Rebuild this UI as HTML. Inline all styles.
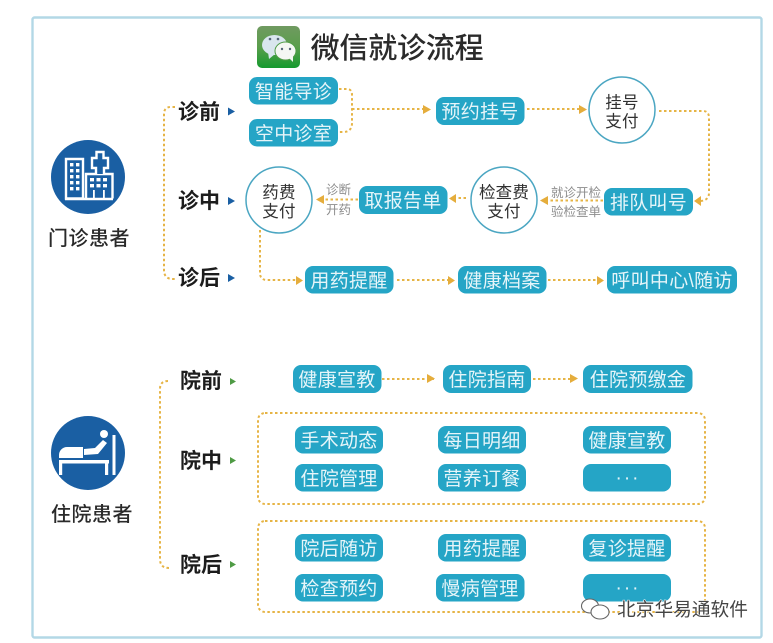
<!DOCTYPE html>
<html lang="zh">
<head>
<meta charset="utf-8">
<style>
html,body{margin:0;padding:0;background:#fff;width:773px;height:643px;overflow:hidden}
svg{display:block;filter:blur(.35px)}
text{font-family:"Liberation Sans","Noto Sans CJK SC",sans-serif}
.p{fill:#25a5c6}
.pt{fill:#e6f5f9;font-size:19px;letter-spacing:.3px;text-anchor:middle}
.c{fill:#fff;stroke:#4ba6c2;stroke-width:1.5}
.ct{fill:#2f2f2f;font-size:16.5px;letter-spacing:.2px;text-anchor:middle}
.h{fill:#1c1c1c;font-size:21px;font-weight:700;text-anchor:middle}
.who{fill:#2a2a2a;font-size:20px;font-weight:500;letter-spacing:.5px;text-anchor:middle}
.g{fill:#8d8d8d;font-size:12.500px;text-anchor:middle}
.d{fill:none;stroke:#e6b445;stroke-width:2;stroke-dasharray:2.500 2.500}
.o{fill:#e5ad3c}
.b{fill:#1a5fa3}
.gr{fill:#4f9b45}
.dots{fill:#e6f5f9;font-size:19px;letter-spacing:2px;text-anchor:middle}
</style>
</head>
<body>
<svg width="773" height="643" viewBox="0 0 773 643" xmlns="http://www.w3.org/2000/svg">
<rect width="773" height="643" fill="#fff"/>
<rect x="32.500" y="17.500" width="729" height="620" rx="2" fill="#fff" stroke="#b3d8e6" stroke-width="2.400"/>

<!-- WeChat icon -->
<defs><linearGradient id="wg" x1="0" y1="0" x2="0" y2="1"><stop offset="0" stop-color="#6f9a60"/><stop offset=".5" stop-color="#5a9e4c"/><stop offset="1" stop-color="#159a2e"/></linearGradient></defs>
<rect x="257" y="26" width="43" height="42" rx="5" fill="url(#wg)"/>
<ellipse cx="274.500" cy="45" rx="12.500" ry="10" fill="#d9e6ee"/>
<path d="M268 52l1 7 6-5z" fill="#d9e6ee"/>
<ellipse cx="285.500" cy="51" rx="10.500" ry="9" fill="#f4f7f3" stroke="#4f9c46" stroke-width="1"/>
<path d="M289 58l4 4 0-6z" fill="#f4f7f3"/>
<circle cx="270" cy="39" r="1.300" fill="#567"/><circle cx="278" cy="39" r="1.300" fill="#567"/>
<circle cx="282" cy="49" r="1.200" fill="#567"/><circle cx="290" cy="49" r="1.200" fill="#567"/>
<text x="397" y="58" text-anchor="middle" font-size="29" font-weight="500" letter-spacing="-.2" fill="#2b2b2b">微信就诊流程</text>

<!-- Outpatient icon -->
<circle cx="88" cy="177" r="37" class="b"/>
<g fill="none" stroke="#fff" stroke-width="2.400">
<path d="M84 198.500H66V159H83V198"/>
<path d="M86 198.500V174H112.500V198.500"/>
<path d="M96 174V168H92V158H96.500V152H103.500V158H108V168H104V174" fill="#1a5fa3"/>
</g>
<path d="M65 199h48" stroke="#fff" stroke-width="2.600"/>
<g fill="#fff">
<rect x="70" y="163" width="3.400" height="3.400"/><rect x="76" y="163" width="3.400" height="3.400"/>
<rect x="70" y="169" width="3.400" height="3.400"/><rect x="76" y="169" width="3.400" height="3.400"/>
<rect x="70" y="175" width="3.400" height="3.400"/><rect x="76" y="175" width="3.400" height="3.400"/>
<rect x="70" y="181" width="3.400" height="3.400"/><rect x="76" y="181" width="3.400" height="3.400"/>
<rect x="70" y="187" width="3.400" height="3.400"/><rect x="76" y="187" width="3.400" height="3.400"/>
<rect x="90" y="178" width="4" height="3.400"/><rect x="96.500" y="178" width="4" height="3.400"/><rect x="103" y="178" width="4" height="3.400"/>
<rect x="90" y="184" width="4" height="3.400"/><rect x="96.500" y="184" width="4" height="3.400"/><rect x="103" y="184" width="4" height="3.400"/>
<rect x="93" y="190" width="1.800" height="8"/><rect x="103" y="190" width="1.800" height="8"/>
</g>
<text x="89" y="245" class="who">门诊患者</text>

<!-- Inpatient icon -->
<circle cx="88" cy="453" r="37" class="b"/>
<circle cx="104" cy="434" r="4" fill="#fff"/>
<g fill="#fff">
<rect x="112.500" y="435" width="3" height="40"/>
<path d="M59 458v-3a8 8 0 0 1 8-8h16v11z"/>
<path d="M84 449l11-1 8-8 4 3-9 11-14 1z"/>
<rect x="59" y="460" width="50" height="3.500"/>
<rect x="59" y="463" width="3.200" height="12"/>
<rect x="105" y="463" width="3.200" height="12"/>
</g>
<text x="92" y="521" class="who">住院患者</text>

<!-- Group brackets -->
<path class="d" d="M175 107h-4q-7 0-7 7v156q0 9 9 9h3"/>
<path class="d" d="M168 381q-8 0-8 8v170q0 9 9 9"/>

<!-- Stage labels -->
<text x="199" y="119" class="h">诊前</text>
<text x="199" y="208" class="h">诊中</text>
<text x="199" y="285" class="h">诊后</text>
<text x="201" y="388" class="h">院前</text>
<text x="201" y="468" class="h">院中</text>
<text x="201" y="572" class="h">院后</text>
<path class="b" d="M228 107.500v8l7-4z"/>
<path class="b" d="M228 197v8l7-4z"/>
<path class="b" d="M228 274v8l7-4z"/>
<path class="gr" d="M230 378v7l6-3.500z"/>
<path class="gr" d="M230 457v7l6-3.500z"/>
<path class="gr" d="M230 561v7l6-3.500z"/>

<!-- Outpatient connectors -->
<path class="d" d="M339 89h8q5 0 5 6v28q0 9-9 9h-4"/>
<path class="d" d="M352 109h73"/>
<path class="o" d="M423 105l8 4.500-8 4.500z"/>
<path class="d" d="M527 109h55"/>
<path class="o" d="M579 105l8 4.500-8 4.500z"/>
<path class="d" d="M659 111h44q6 0 6 7v75q0 7-8 8"/>
<path class="o" d="M701 196l-7 5 7 5z"/>
<path class="d" d="M603 200.500h-56"/>
<path class="o" d="M548 196l-8 4.500 8 4.500z"/>
<path class="d" d="M466 198h-10"/>
<path class="o" d="M456 194l-7 4.500 7 4.500z"/>
<path class="d" d="M358 199.500h-34"/>
<path class="o" d="M324 195l-8 4.500 8 4.500z"/>
<path class="d" d="M260 230v43q0 7 7 7h30"/>
<path class="o" d="M296 276l7 4.500-7 4.500z"/>
<path class="d" d="M397 280h52"/>
<path class="o" d="M448 276l7 4.500-7 4.500z"/>
<path class="d" d="M548 280h50"/>
<path class="o" d="M597 276l7 4.500-7 4.500z"/>

<!-- Inpatient connectors -->
<path class="d" d="M382 379h52"/>
<path class="o" d="M427 374l8 4.500-8 4.500z"/>
<path class="d" d="M533 379h45"/>
<path class="o" d="M570 374l8 4.500-8 4.500z"/>
<rect class="d" x="258" y="413" width="447" height="91" rx="7"/>
<rect class="d" x="258" y="521" width="447" height="91" rx="7"/>

<!-- Pills -->
<rect class="p" x="249" y="77" width="89" height="27.500" rx="8"/><text class="pt" x="293.500" y="98">智能导诊</text>
<rect class="p" x="249" y="119" width="89" height="27.500" rx="8"/><text class="pt" x="293.500" y="140">空中诊室</text>
<rect class="p" x="436" y="97" width="88.500" height="28" rx="8"/><text class="pt" x="480" y="118">预约挂号</text>
<rect class="p" x="604" y="188" width="89" height="27.500" rx="8"/><text class="pt" x="648.500" y="209">排队叫号</text>
<rect class="p" x="359" y="186" width="88.500" height="28" rx="8"/><text class="pt" x="403" y="207">取报告单</text>
<rect class="p" x="305" y="266" width="88.500" height="27.500" rx="8"/><text class="pt" x="349" y="287">用药提醒</text>
<rect class="p" x="458" y="266" width="88.500" height="27.500" rx="8"/><text class="pt" x="502" y="287">健康档案</text>
<rect class="p" x="607" y="266" width="130" height="27.500" rx="8"/><text class="pt" x="672" y="287">呼叫中心\随访</text>

<rect class="p" x="293" y="365" width="88.500" height="28" rx="8"/><text class="pt" x="337" y="386">健康宣教</text>
<rect class="p" x="443" y="365" width="88" height="28" rx="8"/><text class="pt" x="487" y="386">住院指南</text>
<rect class="p" x="583" y="365" width="109.500" height="28" rx="8"/><text class="pt" x="638" y="386">住院预缴金</text>

<rect class="p" x="295" y="426" width="88" height="27.500" rx="8"/><text class="pt" x="339" y="447">手术动态</text>
<rect class="p" x="438" y="426" width="88" height="27.500" rx="8"/><text class="pt" x="482" y="447">每日明细</text>
<rect class="p" x="583" y="426" width="88" height="27.500" rx="8"/><text class="pt" x="627" y="447">健康宣教</text>
<rect class="p" x="295" y="464" width="88" height="27.500" rx="8"/><text class="pt" x="339" y="485">住院管理</text>
<rect class="p" x="438" y="464" width="88" height="27.500" rx="8"/><text class="pt" x="482" y="485">营养订餐</text>
<rect class="p" x="583" y="464" width="88" height="27.500" rx="8"/><text class="dots" x="628" y="484">···</text>

<rect class="p" x="295" y="534" width="88" height="27.500" rx="8"/><text class="pt" x="339" y="555">院后随访</text>
<rect class="p" x="438" y="534" width="88" height="27.500" rx="8"/><text class="pt" x="482" y="555">用药提醒</text>
<rect class="p" x="583" y="534" width="88" height="27.500" rx="8"/><text class="pt" x="627" y="555">复诊提醒</text>
<rect class="p" x="295" y="574" width="88" height="27.500" rx="8"/><text class="pt" x="339" y="595">检查预约</text>
<rect class="p" x="436" y="574" width="88.500" height="27.500" rx="8"/><text class="pt" x="480" y="595">慢病管理</text>
<rect class="p" x="583" y="574" width="88" height="27.500" rx="8"/><text class="dots" x="628" y="594">···</text>

<!-- Circles -->
<circle class="c" cx="622" cy="110" r="33"/>
<text class="ct" x="622" y="108">挂号</text><text class="ct" x="622" y="127">支付</text>
<circle class="c" cx="504" cy="200" r="33"/>
<text class="ct" x="504" y="198">检查费</text><text class="ct" x="504" y="217">支付</text>
<circle class="c" cx="279" cy="200" r="33"/>
<text class="ct" x="279" y="198">药费</text><text class="ct" x="279" y="217">支付</text>

<!-- Gray labels -->
<text class="g" x="338.500" y="194">诊断</text>
<text class="g" x="338.500" y="214">开药</text>
<text class="g" x="576" y="197">就诊开检</text>
<text class="g" x="576" y="216">验检查单</text>

<!-- Watermark -->
<g fill="#fff" stroke="#666" stroke-width="1.100">
<ellipse cx="590" cy="606" rx="8.500" ry="7"/>
<ellipse cx="600" cy="612" rx="9" ry="7"/>
</g>
<text x="682.500" y="616" text-anchor="middle" font-size="18.700" fill="#444" stroke="#fff" stroke-width="1" paint-order="stroke">北京华易通软件</text>
</svg>
</body>
</html>
